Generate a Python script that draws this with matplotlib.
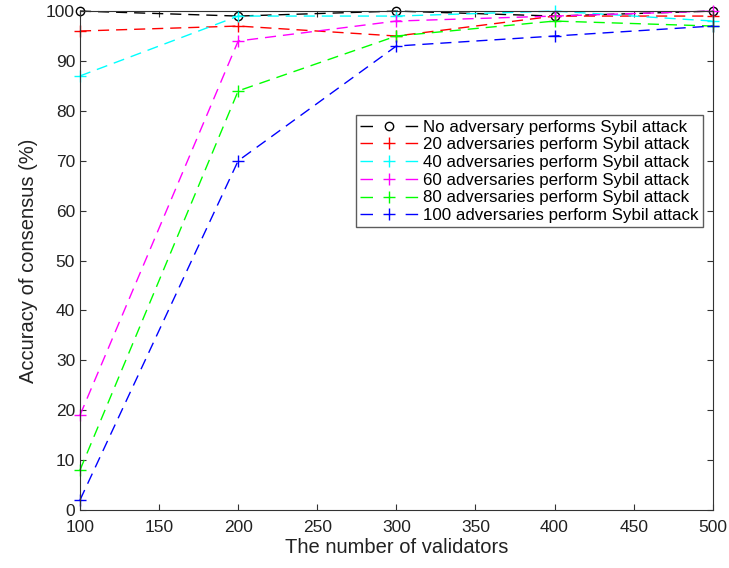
import matplotlib.pyplot as plt

plt.rcParams['font.family'] = ['Liberation Sans', 'DejaVu Sans']

validators = [100, 200, 300, 400, 500]

acc_none = [100, 99, 100, 99, 100]
acc_20 = [96, 97, 95, 99, 99]
acc_40 = [87, 99, 99, 100, 98]
acc_60 = [19, 94, 98, 99, 100]
acc_80 = [8, 84, 95, 98, 97]
acc_100 = [2, 70, 93, 95, 97]

labels = [
    "No adversary performs Sybil attack",
    "20 adversaries perform Sybil attack",
    "40 adversaries perform Sybil attack",
    "60 adversaries perform Sybil attack",
    "80 adversaries perform Sybil attack",
    "100 adversaries perform Sybil attack",
]
colors = ["black", "#ff0000", "#00ffff", "#ff00ff", "#00ff00", "#0000ff"]
markers = ["o", "+", "+", "+", "+", "+"]
msizes = [6, 9, 9, 9, 9, 9]
series = [acc_none, acc_20, acc_40, acc_60, acc_80, acc_100]

fig = plt.figure(figsize=(7.29, 5.68), dpi=100)
ax = fig.add_axes([0.1097, 0.102, 0.868, 0.8785])

for ys, c, m, ms, lab in zip(series, colors, markers, msizes, labels):
    ax.plot(validators, ys, linestyle=(0, (8, 5)), color=c, marker=m,
            markersize=ms, markerfacecolor="none", markeredgewidth=1.0,
            linewidth=1.0, label=lab, clip_on=False)

ax.set_xlim(100, 500)
ax.set_ylim(0, 100)
ax.set_xticks(range(100, 501, 50))
ax.set_yticks(range(0, 101, 10))
ax.tick_params(direction="in", top=True, right=True, labelsize=12.5,
               length=4, colors="#333333", labelcolor="#222222")
ax.tick_params(axis="x", pad=7)
for s in ax.spines.values():
    s.set_color("#333333")

ax.set_xlabel("The number of validators", fontsize=14.5, color="#222222", labelpad=2)
ax.set_ylabel("Accuracy of consensus (%)", fontsize=14.5, color="#222222", labelpad=6)

leg = ax.legend(loc="upper right", bbox_to_anchor=(0.984, 0.791), fontsize=12.2,
                frameon=True, fancybox=False, edgecolor="#333333",
                handlelength=3.4, handletextpad=0.3, borderpad=0.25,
                labelspacing=0.16, borderaxespad=0)
leg.get_frame().set_linewidth(1.0)
# legend handles drawn as "- marker -" like the original
for ln in leg.get_lines():
    ln.set_linestyle((0, (9, 23.5)))

fig.savefig("out.png", dpi=100)
